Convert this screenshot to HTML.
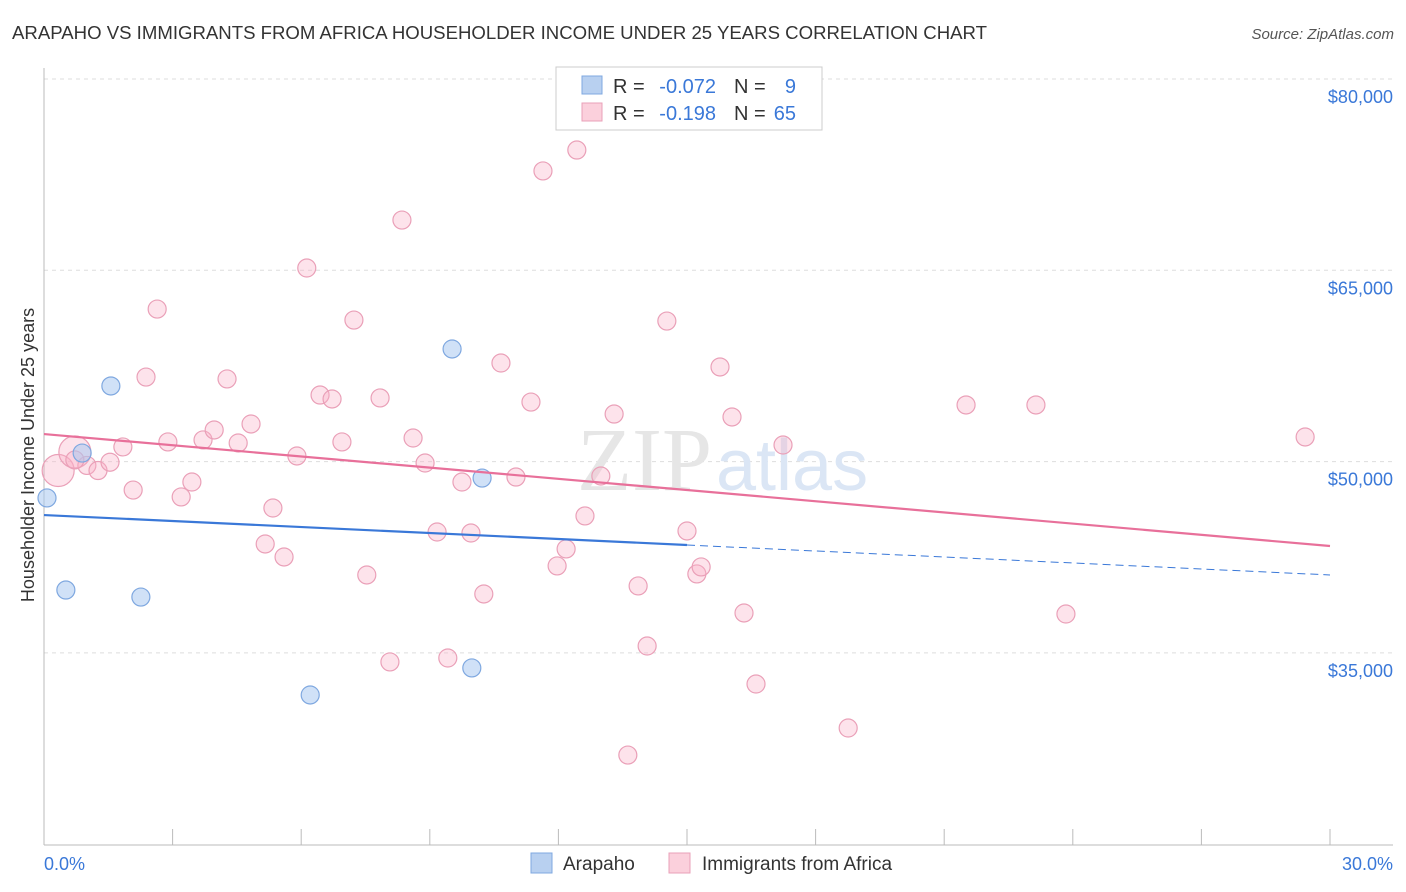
<!DOCTYPE html>
<html><head><meta charset="utf-8"><style>
body{margin:0;background:#fff;font-family:"Liberation Sans",sans-serif;}
svg{display:block}
</style></head><body>
<svg width="1406" height="892" xmlns="http://www.w3.org/2000/svg">
<text x="12" y="39" font-size="18" fill="#333" textLength="975" lengthAdjust="spacingAndGlyphs">ARAPAHO VS IMMIGRANTS FROM AFRICA HOUSEHOLDER INCOME UNDER 25 YEARS CORRELATION CHART</text>
<text x="1394" y="39" font-size="15" fill="#555" font-style="italic" text-anchor="end">Source: ZipAtlas.com</text>
<g id="grid"></g>
<text x="712" y="490" font-size="90" fill="#e6e6e6" font-family="Liberation Serif" text-anchor="end">ZIP</text>
<text x="716" y="490" font-size="72" fill="#dbe6f5">atlas</text>
<g id="marks"></g>
<text transform="translate(34,455) rotate(-90)" font-size="18" fill="#333" text-anchor="middle">Householder Income Under 25 years</text>
<text x="44" y="870" font-size="18" fill="#3a78d8">0.0%</text>
<text x="1393" y="870" font-size="18" fill="#3a78d8" text-anchor="end">30.0%</text>
<g font-size="20">
<rect x="556" y="67" width="266" height="63" fill="#fff" stroke="#ccc"/>
<rect x="582" y="76" width="20" height="18" fill="#b8d0f0" stroke="#7fa8e0"/>
<rect x="582" y="103" width="20" height="18" fill="#fbd0dc" stroke="#eaa0b8"/>
<text x="613" y="93" fill="#333">R =</text>
<text x="716" y="93" fill="#3a78d8" text-anchor="end">-0.072</text>
<text x="734" y="93" fill="#333">N =</text>
<text x="796" y="93" fill="#3a78d8" text-anchor="end">9</text>
<text x="613" y="120" fill="#333">R =</text>
<text x="716" y="120" fill="#3a78d8" text-anchor="end">-0.198</text>
<text x="734" y="120" fill="#333">N =</text>
<text x="796" y="120" fill="#3a78d8" text-anchor="end">65</text>
</g>
<g>
<rect x="531" y="853" width="21" height="20" fill="#b8d0f0" stroke="#7fa8e0"/>
<text x="563" y="870" font-size="19" fill="#333">Arapaho</text>
<rect x="669" y="853" width="21" height="20" fill="#fbd0dc" stroke="#eaa0b8"/>
<text x="702" y="870" font-size="19" fill="#333">Immigrants from Africa</text>
</g>
</svg>
<script>
const yTicks=[80000,65000,50000,35000];
const yTickLabels=["$80,000","$65,000","$50,000","$35,000"];
const xTicks=[0,3,6,9,12,15,18,21,24,27,30];
const africaX=[0.33,0.72,1.0,1.26,1.54,1.84,2.08,2.38,2.64,2.89,3.20,3.45,3.71,3.97,4.27,4.53,4.83,5.16,5.34,5.60,5.90,6.13,6.44,6.72,6.95,7.23,7.53,7.84,8.07,8.35,8.61,8.89,9.17,9.42,9.75,9.96,10.26,10.66,11.01,11.36,11.64,11.97,12.18,12.43,12.62,12.99,13.30,13.86,14.07,13.62,14.53,15.0,15.23,15.33,15.77,16.05,16.33,16.61,17.24,18.76,21.51,23.14,23.84,29.42,0.72];
const africaY=[49300,50750,49700,49300,49950,51150,47770,56630,61960,51540,47230,48400,51700,52480,56480,51460,52950,43540,46360,42520,50440,65180,55220,54910,51540,61100,41110,54990,34290,68940,51850,49890,44480,34600,48400,44400,39620,57730,48790,54670,72790,41820,43150,74430,45740,48870,53730,40250,35540,26990,61020,44560,41190,41740,57420,53500,38130,32560,51300,29110,54440,54440,38050,51930,50130];
const arapahoX=[0.07,0.51,0.89,1.56,2.26,6.21,9.52,9.98,10.22];
const arapahoY=[47150,39930,50670,55930,39380,31700,58830,33820,48710];
const africaTrend=[52160,43380];
const arapahoTrend=[45810,41110];
const arapahoSolidEnd=15;
const NS="http://www.w3.org/2000/svg";
const X=v=>44+v*(1330-44)/30;
const Y=v=>79+(80000-v)*191.3/15000;
function mk(tag,attrs,parent){const e=document.createElementNS(NS,tag);for(const k in attrs)e.setAttribute(k,attrs[k]);parent.appendChild(e);return e;}
const grid=document.getElementById('grid'),marks=document.getElementById('marks');
yTicks.forEach((t,i)=>{
 const l=mk('line',{x1:44,x2:1393,y1:Y(t),y2:Y(t),stroke:'#ddd','stroke-dasharray':'4 4'},grid);
 
 
 const tx=mk('text',{x:1393,y:Y(t)+24,'font-size':18,fill:'#3a78d8','text-anchor':'end'},grid);
 tx.textContent=yTickLabels[i];
 
 
});
const ax=mk('line',{x1:44,x2:44,y1:68,y2:845,stroke:'#bbb'},grid);


const bx=mk('line',{x1:44,x2:1393,y1:845,y2:845,stroke:'#bbb'},grid);


xTicks.forEach(t=>{
 const l=mk('line',{x1:X(t),x2:X(t),y1:829,y2:845,stroke:'#bbb'},grid);
 
 
});
africaX.forEach((x,i)=>{
 const big=i<2;
 const c=mk('circle',{cx:X(x),cy:Y(africaY[i]),r:big?16:9,fill:'rgba(248,175,198,0.35)',stroke:'#eaa0b8','stroke-width':1.2},marks);
 
 
});
arapahoX.forEach((x,i)=>{
 const c=mk('circle',{cx:X(x),cy:Y(arapahoY[i]),r:9,fill:'rgba(170,200,240,0.55)',stroke:'#7fa8e0','stroke-width':1.2},marks);
 
 
});
const pt=mk('line',{x1:X(0),y1:Y(africaTrend[0]),x2:X(30),y2:Y(africaTrend[1]),stroke:'#e8709a','stroke-width':2.2},marks);


const am=arapahoTrend[0]+(arapahoTrend[1]-arapahoTrend[0])*arapahoSolidEnd/30;
const bs=mk('line',{x1:X(0),y1:Y(arapahoTrend[0]),x2:X(arapahoSolidEnd),y2:Y(am),stroke:'#3a78d8','stroke-width':2.2},marks);


const bd=mk('line',{x1:X(arapahoSolidEnd),y1:Y(am),x2:X(30),y2:Y(arapahoTrend[1]),stroke:'#3a78d8','stroke-width':1,'stroke-dasharray':'8 5'},marks);


</script>
</body></html>
